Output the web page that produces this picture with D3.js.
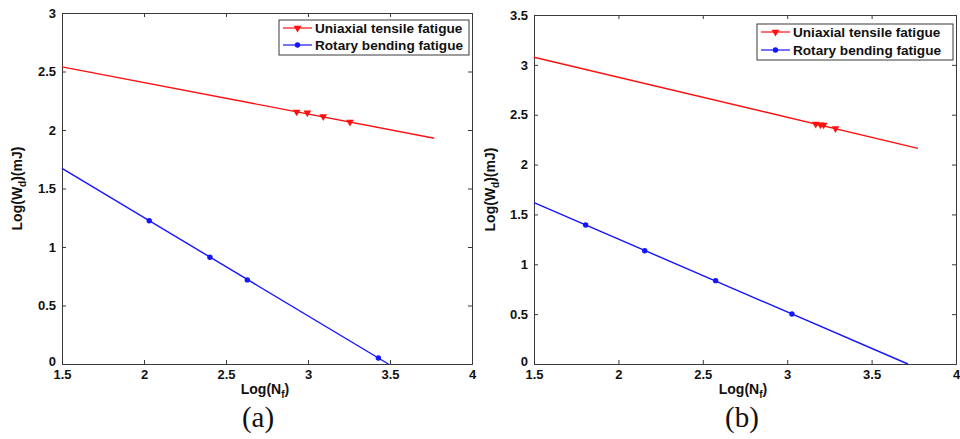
<!DOCTYPE html>
<html>
<head>
<meta charset="utf-8">
<script src="https://cdn.jsdelivr.net/npm/d3@7"></script>
<style>
  body { margin: 0; background: #fff; }
  svg text { font-family: "Liberation Sans", Arial, sans-serif; }
</style>
</head>
<body>
<div id="chart"></div>
<script>
const width = 960, height = 439;

// axis ticks
const xTicks = [1.5, 2, 2.5, 3, 3.5, 4];
const yTicksA = [0, 0.5, 1, 1.5, 2, 2.5, 3];
const yTicksB = [0, 0.5, 1, 1.5, 2, 2.5, 3, 3.5];

const seriesNames = ["Uniaxial tensile fatigue", "Rotary bending fatigue"];

// panel (a)
const tensileNfA = [2.931, 2.996, 3.093, 3.256];
const tensileWdA = [2.155, 2.147, 2.116, 2.068];
const rotaryNfA = [2.032, 2.402, 2.630, 3.429];
const rotaryWdA = [1.225, 0.913, 0.719, 0.051];
const tensileFitA = [[1.5, 2.54], [3.77, 1.93]];
const rotaryFitA = [[1.5, 1.672], [3.49, 0]];

// panel (b)
const tensileNfB = [3.169, 3.197, 3.216, 3.286];
const tensileWdB = [2.407, 2.400, 2.398, 2.362];
const rotaryNfB = [1.806, 2.156, 2.576, 3.028];
const rotaryWdB = [1.394, 1.136, 0.836, 0.501];
const tensileFitB = [[1.5, 3.076], [3.775, 2.163]];
const rotaryFitB = [[1.5, 1.618], [3.715, 0]];

const svg = d3.select("#chart").append("svg")
  .attr("width", width)
  .attr("height", height);

const red = "#ff1010", blue = "#1515ff";

function panel(opt) {
  const x = d3.scaleLinear().domain([1.5, 4]).range([opt.left, opt.right]);
  const y = d3.scaleLinear().domain([0, opt.ymax]).range([opt.bottom, opt.top]);
  const g = svg.append("g");

  // ticks on all four sides, pointing in
  const tk = 4;
  g.append("g").attr("transform", `translate(0,${opt.bottom})`)
    .call(d3.axisBottom(x).tickValues(xTicks).tickSize(-tk).tickPadding(6).tickFormat(d3.format("")));
  g.append("g").attr("transform", `translate(0,${opt.top})`)
    .call(d3.axisTop(x).tickValues(xTicks).tickSize(-tk).tickFormat(""));
  g.append("g").attr("class", "yax").attr("transform", `translate(${opt.left},0)`)
    .call(d3.axisLeft(y).tickValues(opt.yTicks).tickSize(-tk).tickPadding(6).tickFormat(d3.format("")));
  g.append("g").attr("transform", `translate(${opt.right},0)`)
    .call(d3.axisRight(y).tickValues(opt.yTicks).tickSize(-tk).tickFormat(""));

  g.selectAll(".domain").attr("stroke", "#3a3a3a");
  g.selectAll(".tick line").attr("stroke", "#3a3a3a");
  g.selectAll(".tick text")
    .attr("font-size", 13).attr("font-weight", "bold").attr("fill", "#111")
    .style("font-family", "'Liberation Sans', Arial, sans-serif");
  // lift the zero label a little off the corner
  g.select(".yax").selectAll(".tick text").filter(d => d === 0).attr("dy", "0.1em");

  const line = d3.line().x(d => x(d[0])).y(d => y(d[1]));

  g.append("path").datum(opt.tensileFit)
    .attr("d", line).attr("fill", "none").attr("stroke", red).attr("stroke-width", 1.4);
  g.append("path").datum(opt.rotaryFit)
    .attr("d", line).attr("fill", "none").attr("stroke", blue).attr("stroke-width", 1.4);

  const tri = d3.symbol().type(d3.symbolTriangle).size(26);
  g.selectAll(".tpt").data(opt.tensileNf)
    .enter().append("path")
    .attr("class", "tpt")
    .attr("d", tri)
    .attr("transform", (d, i) => `translate(${x(d)},${y(opt.tensileWd[i])}) rotate(180)`)
    .attr("fill", red);
  g.selectAll(".rpt").data(opt.rotaryNf)
    .enter().append("circle")
    .attr("class", "rpt")
    .attr("cx", d => x(d))
    .attr("cy", (d, i) => y(opt.rotaryWd[i]))
    .attr("r", 2.7)
    .attr("fill", blue);

  // legend
  const lg = opt.legend;
  g.append("rect")
    .attr("x", lg.x).attr("y", lg.y).attr("width", lg.w).attr("height", lg.h)
    .attr("fill", "#fff").attr("stroke", "#3a3a3a");
  seriesNames.forEach((name, i) => {
    const cy = lg.y + 8 + i * lg.row;
    const col = i === 0 ? red : blue;
    g.append("line")
      .attr("x1", lg.x + 4).attr("x2", lg.x + 33)
      .attr("y1", cy).attr("y2", cy)
      .attr("stroke", col).attr("stroke-width", 1.2);
    if (i === 0) {
      g.append("path").attr("d", tri)
        .attr("transform", `translate(${lg.x + 18.5},${cy}) rotate(180)`).attr("fill", col);
    } else {
      g.append("circle").attr("cx", lg.x + 18.5).attr("cy", cy).attr("r", 2.7).attr("fill", col);
    }
    g.append("text")
      .attr("x", lg.x + 36).attr("y", cy + 5)
      .attr("font-size", 13.6).attr("font-weight", "bold").attr("fill", "#111")
      .text(name);
  });

  // axis titles
  const xt = g.append("text")
    .attr("x", (opt.left + opt.right) / 2 - 2).attr("y", 394)
    .attr("text-anchor", "middle")
    .attr("font-size", 14).attr("font-weight", "bold").attr("fill", "#111");
  xt.append("tspan").text("Log(N");
  xt.append("tspan").attr("font-size", 10).attr("dy", 4).text("f");
  xt.append("tspan").attr("dy", -4).text(")");

  const ymid = (opt.top + opt.bottom) / 2;
  const yt = g.append("text")
    .attr("transform", `translate(${opt.ylabX},${ymid}) rotate(-90)`)
    .attr("text-anchor", "middle")
    .attr("font-size", 14).attr("font-weight", "bold").attr("fill", "#111");
  yt.append("tspan").text("Log(W");
  yt.append("tspan").attr("font-size", 10).attr("dy", 4).text("d");
  yt.append("tspan").attr("dy", -4).text(")(mJ)");

  g.append("text")
    .attr("x", opt.capX).attr("y", 427)
    .attr("text-anchor", "middle")
    .attr("font-size", 29).attr("fill", "#111")
    .style("font-family", "'Liberation Serif', 'Times New Roman', serif")
    .text(opt.caption);
}

panel({
  left: 62, right: 472, top: 13, bottom: 364, ymax: 3, yTicks: yTicksA,
  tensileNf: tensileNfA, tensileWd: tensileWdA, rotaryNf: rotaryNfA, rotaryWd: rotaryWdA,
  tensileFit: tensileFitA, rotaryFit: rotaryFitA,
  legend: {x: 279, y: 20, w: 190, h: 35, row: 17},
  ylabX: 22, capX: 258, caption: "(a)"
});

panel({
  left: 534, right: 956, top: 15, bottom: 364, ymax: 3.5, yTicks: yTicksB,
  tensileNf: tensileNfB, tensileWd: tensileWdB, rotaryNf: rotaryNfB, rotaryWd: rotaryWdB,
  tensileFit: tensileFitB, rotaryFit: rotaryFitB,
  legend: {x: 757, y: 24, w: 196, h: 36, row: 18},
  ylabX: 495, capX: 742, caption: "(b)"
});
</script>
</body>
</html>
